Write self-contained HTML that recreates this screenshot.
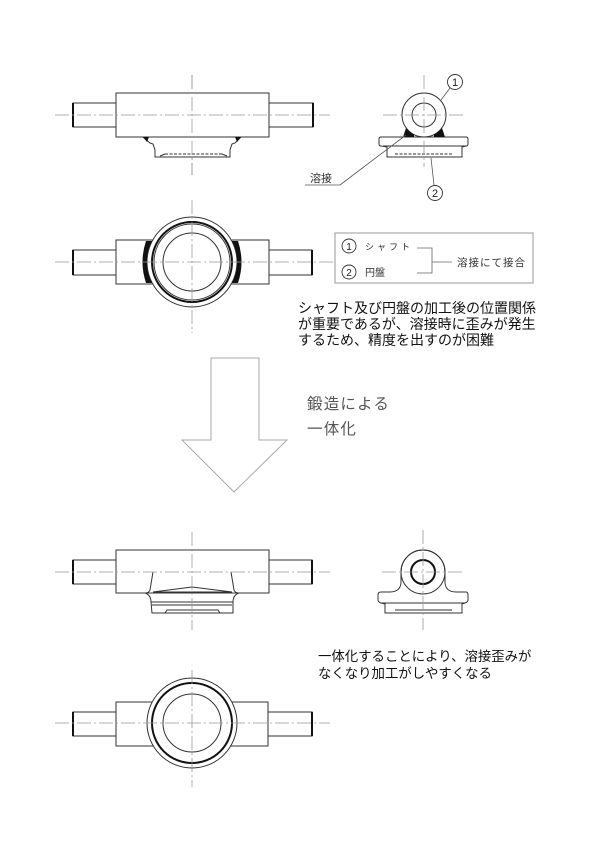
<!DOCTYPE html>
<html><head><meta charset="utf-8"><style>
html,body{margin:0;padding:0;background:#fff;}
svg{display:block;}
text{font-family:"Liberation Sans","Noto Sans CJK JP",sans-serif;}
</style></head><body>
<svg width="600" height="846" viewBox="0 0 600 846" xmlns="http://www.w3.org/2000/svg">
<defs>
<style>
.cl{stroke:#999;stroke-width:0.8;stroke-dasharray:14 3 2 3;fill:none}
.ln{stroke:#333;stroke-width:1;fill:#fff}
.nf{stroke:#333;stroke-width:1;fill:none}
.th{stroke:#111;stroke-width:2;fill:none}
</style>
</defs>

<!-- ============ TOP-LEFT FRONT VIEW (welded) ============ -->
<line class="cl" x1="192" y1="75" x2="192" y2="175"/>
<rect class="ln" x="73" y="103" width="43" height="24"/>
<rect class="ln" x="269" y="103" width="44" height="24"/>
<line class="th" x1="73" y1="103" x2="73" y2="127"/>
<line class="th" x1="313" y1="103" x2="313" y2="127"/>
<rect class="ln" x="116" y="93" width="153" height="44"/>
<path class="ln" d="M143,137 L150,143 L153,144 L155,150 L155,157 L230,157 L230,150 L232,144 L235,143 L241,137 Z"/>
<path d="M143,137 L149,137 L147,142 Z M241,137 L235,137 L237,142 Z" fill="#111"/>
<path class="nf" d="M160,156 L165,154 M222,154 L227,156" stroke-width="0.8"/>
<line x1="165" y1="154" x2="222" y2="154" stroke="#333" stroke-width="0.9" stroke-dasharray="3 1.5"/>
<line class="cl" x1="55" y1="115" x2="330" y2="115"/>
<line class="cl" x1="192" y1="75" x2="192" y2="175"/>

<!-- ============ TOP-RIGHT SIDE VIEW (welded) ============ -->
<path class="ln" d="M381,137 L466,137 Q468,137 468,139 L468,144 Q468,146 466,146 L462,147 L462,157 L387,157 L387,147 L381,146 Q379,146 379,144 L379,139 Q379,137 381,137 Z"/>
<line class="nf" x1="383" y1="146" x2="466" y2="146"/>
<line x1="395" y1="154" x2="453" y2="154" stroke="#333" stroke-width="0.9" stroke-dasharray="3 1.5"/>
<circle class="ln" cx="424" cy="115" r="22"/>
<circle class="nf" cx="424" cy="115" r="12"/>
<path d="M403,137 L406,128 A22 22 0 0 0 414,134.6 L414,137 Z" fill="#111"/>
<path d="M445,137 L442,128 A22 22 0 0 1 434,134.6 L434,137 Z" fill="#111"/>
<line class="cl" x1="424" y1="75" x2="424" y2="167"/>
<line class="cl" x1="383" y1="115" x2="465" y2="115"/>
<!-- balloon 1 -->
<circle cx="455" cy="82" r="7.5" fill="#fff" stroke="#333" stroke-width="0.9"/>
<text x="455" y="86" font-size="11" text-anchor="middle" fill="#222">1</text>
<line x1="450" y1="88" x2="441" y2="100" stroke="#555" stroke-width="0.8"/>
<!-- balloon 2 -->
<circle cx="435" cy="193" r="7.5" fill="#fff" stroke="#333" stroke-width="0.9"/>
<text x="435" y="197" font-size="11" text-anchor="middle" fill="#222">2</text>
<line x1="434" y1="185" x2="431" y2="158" stroke="#555" stroke-width="0.8"/>
<!-- 溶接 label -->
<text x="310" y="182" font-size="11" fill="#333">溶接</text>
<line x1="305" y1="185" x2="340" y2="185" stroke="#555" stroke-width="0.8"/>
<line x1="340" y1="185" x2="406" y2="135" stroke="#555" stroke-width="0.8"/>

<!-- ============ MIDDLE-LEFT TOP VIEW (welded) ============ -->
<rect class="ln" x="73" y="250" width="43" height="25"/>
<rect class="ln" x="269" y="250" width="43" height="25"/>
<line class="th" x1="73" y1="250" x2="73" y2="275"/>
<line class="th" x1="312" y1="250" x2="312" y2="275"/>
<rect class="ln" x="116" y="240" width="153" height="44"/>
<circle class="ln" cx="192" cy="262" r="45"/>
<circle class="th" cx="192" cy="262" r="40"/>
<circle class="nf" cx="192" cy="262" r="38" stroke-width="0.8"/>
<circle class="nf" cx="192" cy="262" r="29"/>
<path d="M152,241 L146,241 Q139,262 146,283 L152,283 A45 45 0 0 1 152,241 Z" fill="#111"/>
<path d="M232,241 L238,241 Q245,262 238,283 L232,283 A45 45 0 0 0 232,241 Z" fill="#111"/>
<line class="cl" x1="55" y1="262" x2="334" y2="262"/>
<line class="cl" x1="192" y1="200" x2="192" y2="333"/>

<!-- Legend box -->
<rect x="335" y="233" width="198" height="50" fill="#fff" stroke="#999" stroke-width="1"/>
<circle cx="349" cy="246" r="7" fill="none" stroke="#333" stroke-width="0.9"/>
<text x="349" y="250" font-size="10" text-anchor="middle" fill="#222">1</text>
<text x="365" y="250" font-size="9" letter-spacing="3" fill="#333">シャフト</text>
<circle cx="349" cy="272" r="7" fill="none" stroke="#333" stroke-width="0.9"/>
<text x="349" y="276" font-size="10" text-anchor="middle" fill="#222">2</text>
<text x="365" y="276" font-size="10" fill="#333">円盤</text>
<polyline points="417,248 432,248 432,273 417,273" fill="none" stroke="#666" stroke-width="0.8"/>
<line x1="432" y1="262" x2="452" y2="262" stroke="#666" stroke-width="0.8"/>
<text x="457" y="266" font-size="10.5" letter-spacing="1" fill="#333">溶接にて接合</text>

<!-- Text block 1 -->
<text font-size="14" fill="#111">
<tspan x="298" y="313">シャフト及び円盤の加工後の位置関係</tspan>
<tspan x="298" y="329">が重要であるが、溶接時に歪みが発生</tspan>
<tspan x="298" y="345">するため、精度を出すのが困難</tspan>
</text>

<!-- ============ ARROW ============ -->
<polygon points="211,358 259,358 259,440 287,440 234,492 182,440 211,440" fill="none" stroke="#aaa" stroke-width="1"/>
<text x="307" y="409" font-size="15.5" letter-spacing="1.2" fill="#555">鍛造による</text>
<text x="307" y="434" font-size="15.5" letter-spacing="1.2" fill="#555">一体化</text>

<!-- ============ BOTTOM-LEFT FRONT VIEW (forged) ============ -->
<rect class="ln" x="73" y="560" width="43" height="24"/>
<rect class="ln" x="269" y="560" width="43" height="24"/>
<line class="th" x1="73" y1="560" x2="73" y2="584"/>
<line class="th" x1="312" y1="560" x2="312" y2="584"/>
<rect x="116" y="550" width="153" height="43" fill="#fff" stroke="none"/>
<path class="nf" d="M145,593 L116,593 L116,550 L269,550 L269,593 L239,593"/>
<path class="ln" d="M145,593 Q151,595 151,602 L152,613 L233,613 L233,602 Q233,595 239,593 Z"/>
<line class="nf" x1="151" y1="602" x2="233" y2="602"/>
<line class="nf" x1="152" y1="605" x2="232" y2="605"/>
<path class="nf" d="M165,613 L167,610 L218,610 L220,613"/>
<path class="nf" d="M153,572 L150,590 Q149,593 145,593"/>
<path class="nf" d="M231,572 L234,590 Q235,593 239,593"/>
<path class="nf" d="M153,592 L192,587 L232,592" stroke-width="1.2"/>
<line class="nf" x1="153" y1="592" x2="232" y2="592" stroke-width="0.8"/>
<line class="cl" x1="55" y1="572" x2="330" y2="572"/>
<line class="cl" x1="192" y1="532" x2="192" y2="630"/>

<!-- ============ BOTTOM-RIGHT SIDE VIEW (forged) ============ -->
<path class="ln" d="M401,572 A22 22 0 0 1 445,572 L445,583 Q446,592 456,592 L466,592 Q468,592 468,595 L468,600 Q468,602 465,603 L462,604 L462,613 L385,613 L385,604 L381,603 Q378,602 378,600 L378,595 Q378,592 381,592 L390,592 Q400,592 401,583 Z"/>
<circle class="nf" cx="423" cy="572" r="22"/>
<line class="nf" x1="381" y1="603" x2="465" y2="603"/>
<line class="nf" x1="395" y1="610" x2="452" y2="610"/>
<circle class="th" cx="423" cy="572" r="12"/>
<line class="cl" x1="423" y1="530" x2="423" y2="630"/>
<line class="cl" x1="382" y1="572" x2="463" y2="572"/>

<!-- Text block 2 -->
<text font-size="13.4" fill="#111">
<tspan x="318" y="661">一体化することにより、溶接歪みが</tspan>
<tspan x="318" y="678">なくなり加工がしやすくなる</tspan>
</text>

<!-- ============ BOTTOM TOP VIEW (forged) ============ -->
<rect class="ln" x="73" y="712" width="43" height="24"/>
<rect class="ln" x="268" y="712" width="44" height="24"/>
<line class="th" x1="73" y1="712" x2="73" y2="736"/>
<line class="th" x1="312" y1="712" x2="312" y2="736"/>
<rect class="ln" x="116" y="702" width="152" height="44"/>
<circle class="ln" cx="192" cy="723" r="45"/>
<circle class="th" cx="192" cy="723" r="40"/>
<circle class="nf" cx="192" cy="723" r="29"/>
<line class="cl" x1="55" y1="723" x2="330" y2="723"/>
<line class="cl" x1="192" y1="670" x2="192" y2="787"/>
</svg>
</body></html>
